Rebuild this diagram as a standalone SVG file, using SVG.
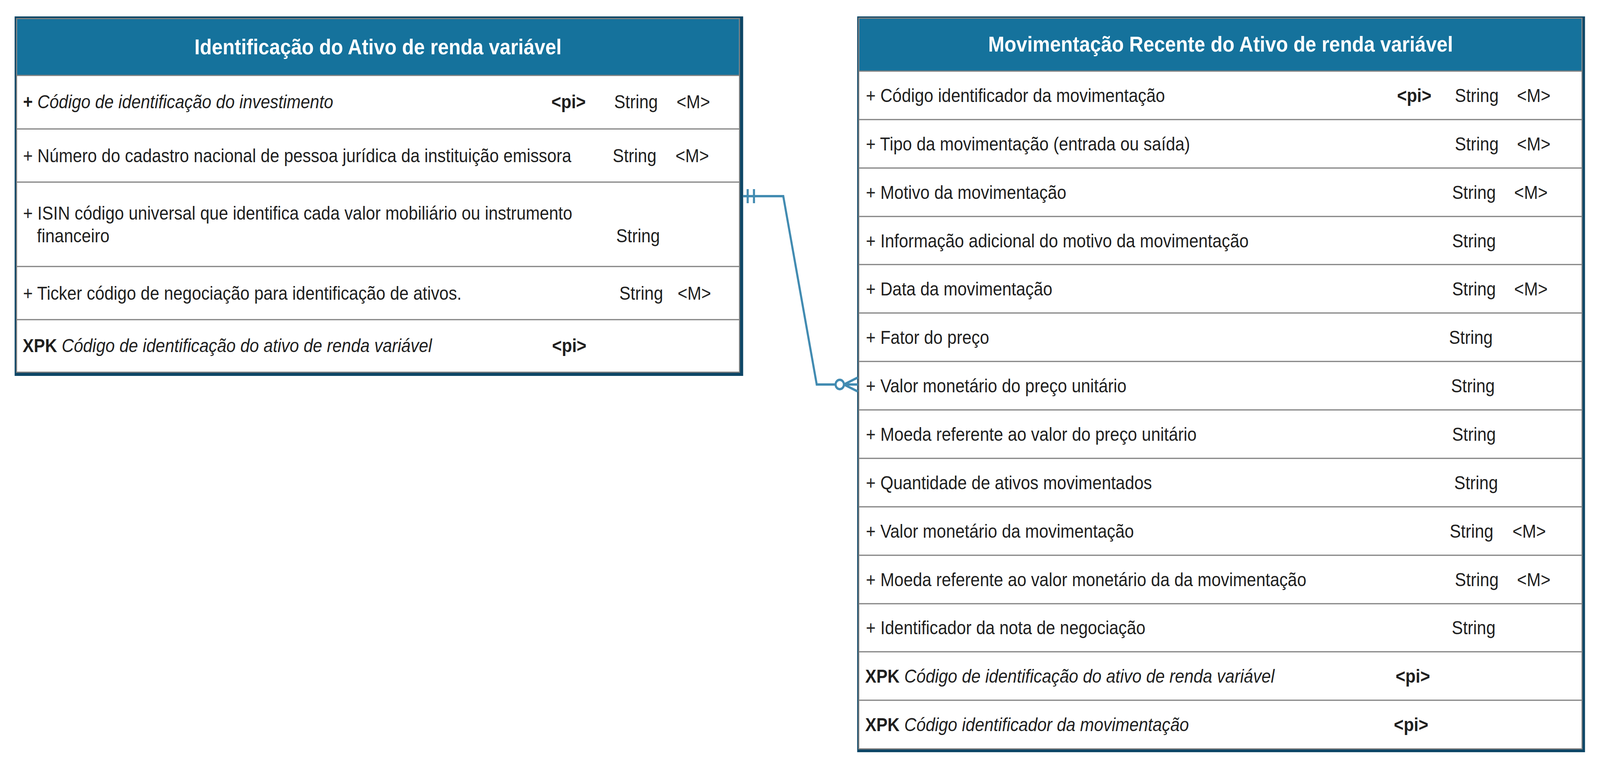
<svg xmlns="http://www.w3.org/2000/svg" width="4588" height="1968" viewBox="0 0 4588 1968" preserveAspectRatio="none">
<style>
:root{width:100vw;height:100vh}
.shadow{fill:#0d4666}
.frame{fill:#ffffff;stroke:#808080;stroke-width:3}
.head{fill:#15729c}
.sep{stroke:#808080;stroke-width:3}
.title{font-family:"Liberation Sans",Arial,sans-serif;font-size:56px;font-weight:bold;fill:#ffffff;text-anchor:middle}
.t{font-family:"Liberation Sans",Arial,sans-serif;font-size:48px;fill:#1f1f1f}
.b{font-weight:bold}
.i{font-style:italic}
.conn{fill:none;stroke:#428bb1;stroke-width:6}
</style>
<rect width="4588" height="1968" fill="#ffffff"/>
<g id="node-identificacao">
<rect class="shadow" x="42" y="42" width="2089" height="920"/>
<rect class="frame" x="47.5" y="47.5" width="2073" height="905"/>
<rect class="head" x="49" y="49" width="2070" height="143"/>
<line class="sep" x1="47" y1="193" x2="2121" y2="193"/>
<line class="sep" x1="47" y1="330" x2="2121" y2="330"/>
<line class="sep" x1="47" y1="466" x2="2121" y2="466"/>
<line class="sep" x1="47" y1="682" x2="2121" y2="682"/>
<line class="sep" x1="47" y1="818" x2="2121" y2="818"/>
<text class="title" x="1084" y="139">Identificação do Ativo de renda variável</text>
<text class="t" x="66" y="277"><tspan class="b">+</tspan> <tspan class="i">Código de identificação do investimento</tspan></text>
<text class="t b" x="1581" y="277">&lt;pi&gt;</text>
<text class="t" x="1761" y="277">String</text>
<text class="t" x="1940" y="277">&lt;M&gt;</text>
<text class="t" x="66" y="415">+ Número do cadastro nacional de pessoa jurídica da instituição emissora</text>
<text class="t" x="1757" y="415">String</text>
<text class="t" x="1937" y="415">&lt;M&gt;</text>
<text class="t" x="66" y="562">+ ISIN código universal que identifica cada valor mobiliário ou instrumento</text>
<text class="t" x="106" y="620">financeiro</text>
<text class="t" x="1767" y="620">String</text>
<text class="t" x="66" y="767">+ Ticker código de negociação para identificação de ativos.</text>
<text class="t" x="1776" y="767">String</text>
<text class="t" x="1943" y="767">&lt;M&gt;</text>
<text class="t" x="65" y="901"><tspan class="b">XPK</tspan> <tspan class="i">Código de identificação do ativo de renda variável</tspan></text>
<text class="t b" x="1583" y="901">&lt;pi&gt;</text>
</g>
<g id="node-movimentacao">
<rect class="shadow" x="2458" y="42" width="2087" height="1883"/>
<rect class="frame" x="2462.5" y="46.5" width="2074" height="1870"/>
<rect class="head" x="2464" y="48" width="2071" height="133"/>
<line class="sep" x1="2462" y1="182" x2="4537" y2="182"/>
<line class="sep" x1="2462" y1="306" x2="4537" y2="306"/>
<line class="sep" x1="2462" y1="430" x2="4537" y2="430"/>
<line class="sep" x1="2462" y1="554" x2="4537" y2="554"/>
<line class="sep" x1="2462" y1="677" x2="4537" y2="677"/>
<line class="sep" x1="2462" y1="801" x2="4537" y2="801"/>
<line class="sep" x1="2462" y1="925" x2="4537" y2="925"/>
<line class="sep" x1="2462" y1="1049" x2="4537" y2="1049"/>
<line class="sep" x1="2462" y1="1173" x2="4537" y2="1173"/>
<line class="sep" x1="2462" y1="1297" x2="4537" y2="1297"/>
<line class="sep" x1="2462" y1="1421" x2="4537" y2="1421"/>
<line class="sep" x1="2462" y1="1545" x2="4537" y2="1545"/>
<line class="sep" x1="2462" y1="1668" x2="4537" y2="1668"/>
<line class="sep" x1="2462" y1="1792" x2="4537" y2="1792"/>
<text class="title" x="3500" y="132">Movimentação Recente do Ativo de renda variável</text>
<text class="t" x="2483" y="261">+ Código identificador da movimentação</text>
<text class="t b" x="4006" y="261">&lt;pi&gt;</text>
<text class="t" x="4172" y="261">String</text>
<text class="t" x="4350" y="261">&lt;M&gt;</text>
<text class="t" x="2483" y="385">+ Tipo da movimentação (entrada ou saída)</text>
<text class="t" x="4172" y="385">String</text>
<text class="t" x="4350" y="385">&lt;M&gt;</text>
<text class="t" x="2483" y="509">+ Motivo da movimentação</text>
<text class="t" x="4164" y="509">String</text>
<text class="t" x="4342" y="509">&lt;M&gt;</text>
<text class="t" x="2483" y="633">+ Informação adicional do motivo da movimentação</text>
<text class="t" x="4164" y="633">String</text>
<text class="t" x="2483" y="756">+ Data da movimentação</text>
<text class="t" x="4164" y="756">String</text>
<text class="t" x="4342" y="756">&lt;M&gt;</text>
<text class="t" x="2483" y="880">+ Fator do preço</text>
<text class="t" x="4155" y="880">String</text>
<text class="t" x="2483" y="1004">+ Valor monetário do preço unitário</text>
<text class="t" x="4161" y="1004">String</text>
<text class="t" x="2483" y="1128">+ Moeda referente ao valor do preço unitário</text>
<text class="t" x="4164" y="1128">String</text>
<text class="t" x="2483" y="1252">+ Quantidade de ativos movimentados</text>
<text class="t" x="4170" y="1252">String</text>
<text class="t" x="2483" y="1376">+ Valor monetário da movimentação</text>
<text class="t" x="4157" y="1376">String</text>
<text class="t" x="4337" y="1376">&lt;M&gt;</text>
<text class="t" x="2483" y="1500">+ Moeda referente ao valor monetário da da movimentação</text>
<text class="t" x="4172" y="1500">String</text>
<text class="t" x="4350" y="1500">&lt;M&gt;</text>
<text class="t" x="2483" y="1623">+ Identificador da nota de negociação</text>
<text class="t" x="4163" y="1623">String</text>
<text class="t" x="2481" y="1747"><tspan class="b">XPK</tspan> <tspan class="i">Código de identificação do ativo de renda variável</tspan></text>
<text class="t b" x="4002" y="1747">&lt;pi&gt;</text>
<text class="t" x="2481" y="1871"><tspan class="b">XPK</tspan> <tspan class="i">Código identificador da movimentação</tspan></text>
<text class="t b" x="3997" y="1871">&lt;pi&gt;</text>
</g>
<g id="connectors">
<path class="conn" d="M2131,502 H2246 L2342,984 H2396"/>
<path class="conn" d="M2144,484 V520 M2162,484 V520"/>
<circle class="conn" cx="2408" cy="984" r="12" fill="#ffffff"/>
<path class="conn" d="M2420,984 L2460,966 M2420,984 L2460,1002 M2420,984 H2460"/>
</g>
</svg>
